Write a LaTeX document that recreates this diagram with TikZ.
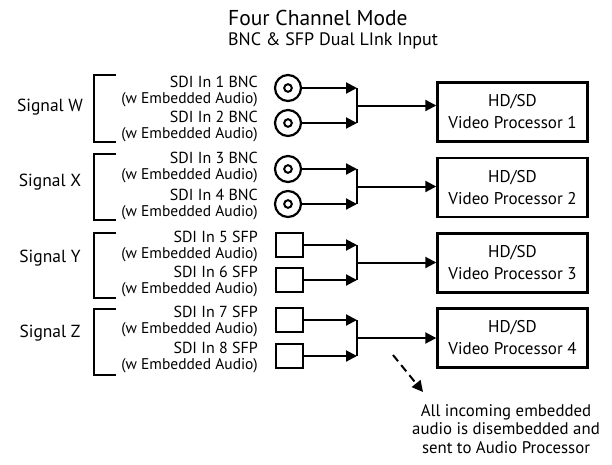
\documentclass[tikz,border=0pt]{standalone}
\usepackage{fontspec}
\setmainfont{PT Sans}
\usetikzlibrary{arrows.meta}

\begin{document}
\begin{tikzpicture}[x=1pt,y=-1pt,
    bnc/.style={circle,draw,line width=2.2pt,minimum size=26pt,inner sep=0pt},
    sfp/.style={rectangle,draw,line width=2pt,minimum width=27pt,minimum height=24pt,inner sep=0pt},
    proc/.style={rectangle,draw,line width=2.4pt,minimum width=150pt,minimum height=59pt,align=center,font=\fontsize{17}{22}\selectfont},
    sdi/.style={anchor=east,align=right,inner sep=0pt,font=\fontsize{16}{16}\selectfont},
    sig/.style={font=\fontsize{17.5}{20}\selectfont},
    feed/.style={line width=2pt,-{Triangle[length=11pt,width=11pt]}},
    brk/.style={line width=2pt}]
    \useasboundingbox (0,0) rectangle (612,464);
    % titles
    \node (t1) at (228,18) [anchor=west,inner sep=0pt]{\fontsize{21.5}{23}\selectfont Four Channel Mode};
    \node (t2) at (228,41) [anchor=west,inner sep=0pt]{\fontsize{18}{19}\selectfont BNC \& SFP Dual LInk Input};
    % signal groups
    \node (sw) at (50,107) [sig]{Signal W};
    \node (sx) at (50,182) [sig]{Signal X};
    \node (sy) at (50,258) [sig]{Signal Y};
    \node (sz) at (50,333) [sig]{Signal Z};
    \draw[brk] (116,75) -- (94,75) -- (94,142) -- (116,142);
    \draw[brk] (116,154) -- (94,154) -- (94,220) -- (116,220);
    \draw[brk] (116,233) -- (94,233) -- (94,298) -- (116,298);
    \draw[brk] (116,309) -- (94,309) -- (94,375) -- (116,375);
    % input labels
    \node (l1) at (258,92) [sdi]{SDI In 1 BNC\\{\fontsize{15.5}{16}\selectfont (w Embedded Audio)}};
    \node (l2) at (258,127) [sdi]{SDI In 2 BNC\\{\fontsize{15.5}{16}\selectfont (w Embedded Audio)}};
    \node (l3) at (258,168) [sdi]{SDI In 3 BNC\\{\fontsize{15.5}{16}\selectfont (w Embedded Audio)}};
    \node (l4) at (258,205) [sdi]{SDI In 4 BNC\\{\fontsize{15.5}{16}\selectfont (w Embedded Audio)}};
    \node (l5) at (258,247) [sdi]{SDI In 5 SFP\\{\fontsize{15.5}{16}\selectfont (w Embedded Audio)}};
    \node (l6) at (258,282) [sdi]{SDI In 6 SFP\\{\fontsize{15.5}{16}\selectfont (w Embedded Audio)}};
    \node (l7) at (258,321) [sdi]{SDI In 7 SFP\\{\fontsize{15.5}{16}\selectfont (w Embedded Audio)}};
    \node (l8) at (258,357) [sdi]{SDI In 8 SFP\\{\fontsize{15.5}{16}\selectfont (w Embedded Audio)}};
    % connectors
    \node (in1) at (288,88) [bnc]{};
    \node (in2) at (288,123) [bnc]{};
    \node (in3) at (288,169) [bnc]{};
    \node (in4) at (288,204) [bnc]{};
    \draw[line width=2pt] (in1) circle (3.8pt) (in2) circle (3.8pt) (in3) circle (3.8pt) (in4) circle (3.8pt);
    \node (in5) at (289,245) [sfp]{};
    \node (in6) at (289,280) [sfp]{};
    \node (in7) at (289,320) [sfp]{};
    \node (in8) at (289,356) [sfp]{};
    % processors
    \node (vp1) at (512.5,112) [proc]{HD/SD\\Video Processor 1};
    \node (vp2) at (512.5,187.5) [proc]{HD/SD\\Video Processor 2};
    \node (vp3) at (512.5,263) [proc]{HD/SD\\Video Processor 3};
    \node (vp4) at (512.5,338) [proc]{HD/SD\\Video Processor 4};
    % junctions
    \coordinate (j1) at (357,105.5);
    \coordinate (j2) at (357,186.5);
    \coordinate (j3) at (357,262.5);
    \coordinate (j4) at (357,338);
    \draw[feed] (in1) -- (in1 -| j1);
    \draw[feed] (in2) -- (in2 -| j1);
    \draw[feed] (in3) -- (in3 -| j2);
    \draw[feed] (in4) -- (in4 -| j2);
    \draw[feed] (in5) -- (in5 -| j3);
    \draw[feed] (in6) -- (in6 -| j3);
    \draw[feed] (in7) -- (in7 -| j4);
    \draw[feed] (in8) -- (in8 -| j4);
    \draw[brk] (in1 -| j1) -- (in2 -| j1);
    \draw[brk] (in3 -| j2) -- (in4 -| j2);
    \draw[brk] (in5 -| j3) -- (in6 -| j3);
    \draw[brk] (in7 -| j4) -- (in8 -| j4);
    \draw[feed] (j1) -- (j1 -| vp1.west);
    \draw[feed] (j2) -- (j2 -| vp2.west);
    \draw[feed] (j3) -- (j3 -| vp3.west);
    \draw[feed] (j4) -- (j4 -| vp4.west);
    % audio note
    \node (note) at (506,429) [align=center,font=\fontsize{16.8}{18.5}\selectfont]{All incoming embedded\\audio is disembedded and\\sent to Audio Processor};
    \coordinate (d0) at (393,355);
    \coordinate (d1) at (423,392);
    \draw[line width=2pt,dash pattern=on 8pt off 5pt,-{Triangle[length=11pt,width=11pt]}] (d0) -- (d1);
\end{tikzpicture}
\end{document}
